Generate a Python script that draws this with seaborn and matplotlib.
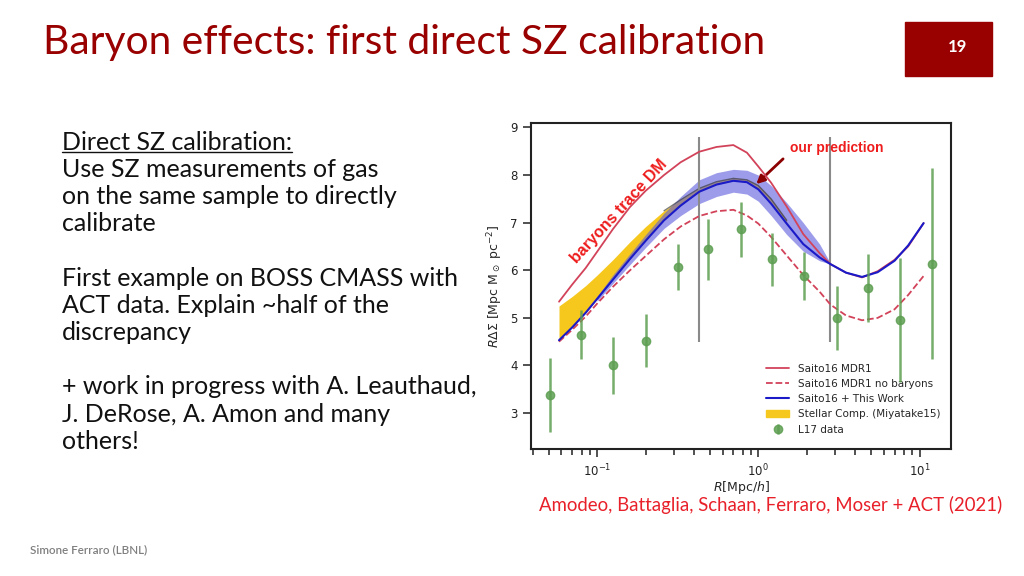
import matplotlib
matplotlib.use("Agg")
import matplotlib.pyplot as plt
import matplotlib.lines as mlines
import matplotlib.patches as mpatches
import seaborn as sns

# ---- data ----
R_model = [0.058, 0.07, 0.085, 0.1, 0.125, 0.16, 0.2, 0.26, 0.33, 0.43, 0.55, 0.7,
           0.85, 1.0, 1.2, 1.5, 1.9, 2.4, 2.8, 3.5, 4.4, 5.5, 7.0, 8.5, 10.6]
saito_mdr1 = [5.34, 5.70, 6.05, 6.39, 6.86, 7.33, 7.67, 8.00, 8.27, 8.49, 8.59, 8.63,
              8.47, 8.18, 7.84, 7.34, 6.76, 6.36, 6.13, 5.95, 5.85, 5.98, 6.22, 6.50, 6.99]
saito_nobaryons = [4.50, 4.75, 5.03, 5.30, 5.65, 6.00, 6.30, 6.65, 6.92, 7.14, 7.24, 7.27,
                   7.15, 6.98, 6.70, 6.31, 5.90, 5.55, 5.28, 5.05, 4.95, 5.00, 5.18, 5.48, 5.88]
saito_thiswork = [4.53, 4.80, 5.11, 5.40, 5.80, 6.24, 6.62, 7.05, 7.36, 7.65, 7.80, 7.88,
                  7.85, 7.70, 7.40, 6.98, 6.55, 6.27, 6.13, 5.95, 5.86, 5.96, 6.20, 6.52, 6.99]

# uncertainty band on "This Work"
R_band = [0.1, 0.125, 0.16, 0.2, 0.26, 0.33, 0.43, 0.55, 0.7, 0.85, 1.0, 1.2, 1.5, 1.9, 2.4, 2.8]
band_lo = [5.35, 5.72, 6.12, 6.48, 6.88, 7.15, 7.40, 7.55, 7.64, 7.60, 7.45, 7.15, 6.75, 6.40, 6.20, 6.13]
band_hi = [5.45, 5.90, 6.35, 6.75, 7.20, 7.55, 7.90, 8.05, 8.12, 8.10, 8.00, 7.78, 7.42, 7.00, 6.55, 6.15]

# stellar component band (Miyatake15)
R_star = [0.058, 0.07, 0.085, 0.1, 0.125, 0.16, 0.2, 0.26, 0.33, 0.43, 0.55, 0.7, 0.85, 1.0, 1.2, 1.5]
star_lo = [4.53, 4.80, 5.11, 5.40, 5.80, 6.24, 6.62, 7.05, 7.36, 7.65, 7.80, 7.88, 7.85, 7.70, 7.40, 6.98]
star_hi = [5.25, 5.45, 5.68, 5.90, 6.22, 6.60, 6.92, 7.25, 7.48, 7.72, 7.86, 7.93, 7.90, 7.78, 7.50, 7.05]

# L17 data points
R_data = [0.0508, 0.0796, 0.126, 0.20, 0.317, 0.49, 0.78, 1.22, 1.93, 3.06, 4.80, 7.55, 12.0]
d_data = [3.38, 4.65, 4.00, 4.52, 6.07, 6.44, 6.86, 6.23, 5.88, 5.00, 5.63, 4.95, 6.14]
e_data = [0.78, 0.52, 0.60, 0.56, 0.49, 0.64, 0.58, 0.55, 0.51, 0.68, 0.72, 1.30, 2.00]

# grey vertical bars
R_grey = [0.43, 2.8]
grey_lo = [4.50, 4.49]
grey_hi = [8.80, 8.80]

body_lines = [
    "Direct SZ calibration:",
    "Use SZ measurements of gas",
    "on the same sample to directly",
    "calibrate",
    "",
    "First example on BOSS CMASS with",
    "ACT data. Explain ~half of the",
    "discrepancy",
    "",
    "+ work in progress with A. Leauthaud,",
    "J. DeRose, A. Amon and many",
    "others!",
]

c_red = "#d2435a"
c_blue = "#1a1ac8"
c_band = "#5b5bdc"
c_yel = "#f6c81e"
c_green = "#5e9f52"
dark_red = "#990000"

sns.set_style("ticks")
plt.rcParams["font.family"] = ["DejaVu Sans"]

fig = plt.figure(figsize=(10.24, 5.76), dpi=100)
ax = fig.add_axes([0.5186, 0.22, 0.4102, 0.567])

# bands
ax.fill_between(R_star, star_lo, star_hi, color=c_yel, lw=0, zorder=1)
ax.fill_between(R_band, band_lo, band_hi, color=c_band, alpha=0.6, lw=0, zorder=2)
sns.lineplot(x=R_star[7:], y=star_hi[7:], ax=ax, color="#2b2b22", lw=1.0, alpha=0.6, zorder=3)

# model curves
sns.lineplot(x=R_model, y=saito_mdr1, ax=ax, color=c_red, lw=1.3, zorder=4)
sns.lineplot(x=R_model, y=saito_nobaryons, ax=ax, color=c_red, lw=1.3, ls="--", zorder=4)
sns.lineplot(x=R_model, y=saito_thiswork, ax=ax, color=c_blue, lw=1.5, zorder=5)

# data
ax.vlines(R_grey, grey_lo, grey_hi, color="#8a8a8a", lw=1.5, zorder=3)
ax.errorbar(R_data, d_data, yerr=e_data, fmt="o", color=c_green, ms=6, elinewidth=1.8,
            alpha=0.85, zorder=6)

ax.set_xscale("log")
ax.set_xlim(0.0389, 15.7)
ax.set_ylim(2.24, 9.10)
ax.set_yticks([3, 4, 5, 6, 7, 8, 9])
ax.tick_params(axis="both", which="major", length=6, width=1.1, labelsize=8.5, colors="#222222")
ax.tick_params(axis="x", which="minor", length=4.5, width=1.1, colors="#222222")
for s in ax.spines.values():
    s.set_linewidth(1.5)
    s.set_color("#222222")
ax.set_xlabel(r"$R$[Mpc/$h$]", fontsize=9, labelpad=0)
ax.set_ylabel(r"$R\Delta\Sigma$ [Mpc M$_\odot$ pc$^{-2}$]", fontsize=9, labelpad=4)

# legend
handles = [
    mlines.Line2D([], [], color=c_red, lw=1.3, label="Saito16 MDR1"),
    mlines.Line2D([], [], color=c_red, lw=1.3, ls="--", label="Saito16 MDR1 no baryons"),
    mlines.Line2D([], [], color=c_blue, lw=1.5, label="Saito16 + This Work"),
    mpatches.Patch(color=c_yel, label="Stellar Comp. (Miyatake15)"),
    ax.errorbar([], [], yerr=[], fmt="o", color=c_green, ms=6, elinewidth=1.8, alpha=0.85,
                label="L17 data"),
]
ax.legend(handles=handles, loc="upper left", bbox_to_anchor=(0.56, 0.262), frameon=False,
          fontsize=7.5, borderpad=0, borderaxespad=0, handlelength=2.2, handletextpad=0.8,
          labelspacing=0.5)

# annotations
ax.text(0.1364, 7.23, "baryons trace DM", rotation=47.4, rotation_mode="anchor",
        ha="center", va="center", color="#ee1c1c", fontsize=11.5, fontweight="bold",
        family=["Liberation Sans", "DejaVu Sans"], zorder=7)
ax.text(1.574, 8.57, "our prediction", ha="left", va="center", color="#ee1c1c",
        fontsize=10, fontweight="bold", family=["Liberation Sans", "DejaVu Sans"], zorder=7)
ax.annotate("", xy=(0.944, 7.77), xytext=(1.466, 8.38),
            arrowprops=dict(arrowstyle="-|>", color="#8b0000", lw=2, mutation_scale=12))

# ---- slide decorations ----
slide_font = ["Lato", "DejaVu Sans"]
fig.text(43 / 1024, 1 - 54 / 576, "Baryon effects: first direct SZ calibration",
         fontsize=29.3, color=dark_red, family=slide_font, ha="left", va="baseline")
fig.patches.append(mpatches.Rectangle((905 / 1024, 1 - 76 / 576), 87 / 1024, 54 / 576,
                                      transform=fig.transFigure, color=dark_red, zorder=0))
fig.text(958 / 1024, 1 - 47 / 576, "19", fontsize=12, fontweight="bold", color="white",
         family=slide_font, ha="center", va="center")

y0 = 149.5
for i, line in enumerate(body_lines):
    if not line:
        continue
    t = fig.text(62 / 1024, 1 - (y0 + 27.2 * i) / 576, line, fontsize=18, color="#111111",
                 family=slide_font, ha="left", va="baseline")
    if i == 0:
        fig.canvas.draw()
        bb = t.get_window_extent()
        yline = 1 - (y0 + 2.5) / 576
        fig.add_artist(mlines.Line2D([bb.x0 / 1024, bb.x1 / 1024], [yline, yline],
                                     transform=fig.transFigure, color="#111111", lw=1))

fig.text(1002 / 1024, 1 - 505 / 576, "Amodeo, Battaglia, Schaan, Ferraro, Moser + ACT (2021)",
         fontsize=13.4, color="#e8202a", family=slide_font, ha="right", va="center")
fig.text(30 / 1024, 1 - 550 / 576, "Simone Ferraro (LBNL)", fontsize=8.4, color="#7f7f7f",
         fontweight="semibold", family=slide_font, ha="left", va="center")

fig.savefig("out.png", dpi=100)
